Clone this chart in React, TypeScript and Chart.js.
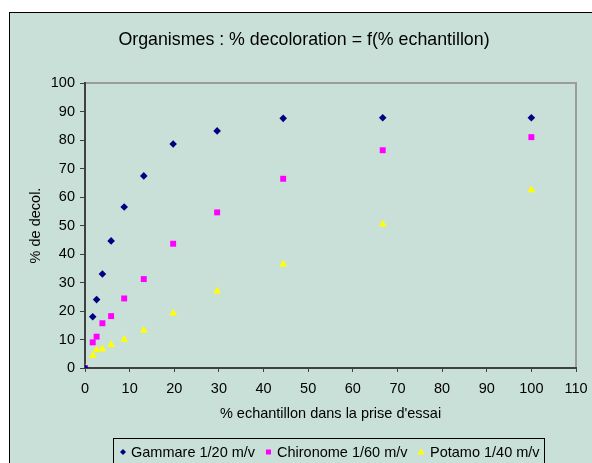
import React, { useEffect, useRef } from "react";
import { Chart, registerables } from "chart.js";

Chart.register(...registerables);

const xValues = [0, 1.73, 2.6, 3.9, 5.85, 8.78, 13.17, 19.75, 29.6, 44.4, 66.7, 100];
const gammare = [0, 18, 24, 33, 44.6, 56.5, 67.4, 78.6, 83.2, 87.6, 87.8, 87.8];
const chironome = [0, 9, 11, 15.7, 18.2, 24.4, 31.2, 43.6, 54.6, 66.4, 76.4, 81];
const potamo = [0, 4.3, 6.3, 6.7, 8.2, 10, 13.2, 19.2, 26.9, 36.4, 50.4, 62.5];

const seriesNames = ["Gammare 1/20 m/v", "Chironome 1/60 m/v", "Potamo 1/40 m/v"];
const title = "Organismes : % decoloration = f(% echantillon)";
const xTitle = "% echantillon dans la prise d'essai";
const yTitle = "% de decol.";

const BG = "#C9E0D8";
const FONT = "'Liberation Sans', Arial, sans-serif";
const FS = 14.5;

const toPoints = (ys: number[]) => xValues.map((x, i) => ({ x, y: ys[i] }));

const framePlugin = {
  id: "frame",
  beforeDraw(chart: any) {
    const { ctx, width, height, chartArea } = chart;
    ctx.save();
    ctx.fillStyle = "#ffffff";
    ctx.fillRect(0, 0, width, height);
    ctx.fillStyle = BG;
    ctx.fillRect(9, 12, width, height);
    ctx.strokeStyle = "#000000";
    ctx.lineWidth = 1;
    ctx.strokeRect(9.5, 12.5, width + 10, height + 10);
    // title
    ctx.fillStyle = "#000000";
    ctx.font = `17.8px ${FONT}`;
    ctx.textAlign = "center";
    ctx.textBaseline = "middle";
    ctx.fillText(title, 304, 40);
    // plot border
    ctx.strokeStyle = "#9c9c9c";
    ctx.lineWidth = 2;
    ctx.beginPath();
    ctx.moveTo(chartArea.left, chartArea.top);
    ctx.lineTo(chartArea.right, chartArea.top);
    ctx.lineTo(chartArea.right, chartArea.bottom);
    ctx.stroke();
    ctx.restore();
  },
  afterDraw(chart: any) {
    const { ctx } = chart;
    ctx.save();
    // legend box
    ctx.strokeStyle = "#000000";
    ctx.lineWidth = 1;
    ctx.fillStyle = BG;
    ctx.fillRect(113.5, 438.5, 431, 40);
    ctx.strokeRect(113.5, 438.5, 431, 40);
    ctx.font = `${FS}px ${FONT}`;
    ctx.textAlign = "left";
    ctx.textBaseline = "middle";
    const items = [
      { mx: 123, tx: 131, idx: 0 },
      { mx: 268.5, tx: 277, idx: 1 },
      { mx: 421, tx: 430, idx: 2 },
    ];
    const my = 452;
    items.forEach((it) => {
      const ds = chart.data.datasets[it.idx];
      ctx.fillStyle = ds.backgroundColor;
      ctx.beginPath();
      if (it.idx === 0) {
        ctx.moveTo(it.mx, my - 3);
        ctx.lineTo(it.mx + 3, my);
        ctx.lineTo(it.mx, my + 3);
        ctx.lineTo(it.mx - 3, my);
        ctx.closePath();
      } else if (it.idx === 1) {
        ctx.rect(it.mx - 2.5, my - 2.5, 5, 5);
      } else {
        ctx.moveTo(it.mx, my - 3.5);
        ctx.lineTo(it.mx + 3.5, my + 2.5);
        ctx.lineTo(it.mx - 3.5, my + 2.5);
        ctx.closePath();
      }
      ctx.fill();
      ctx.fillStyle = "#000000";
      ctx.fillText(seriesNames[it.idx], it.tx, my + 0.5);
    });
    ctx.restore();
  },
};

export default function App() {
  const ref = useRef<HTMLCanvasElement | null>(null);
  useEffect(() => {
    if (!ref.current) return;
    const chart = new Chart(ref.current, {
      type: "scatter",
      data: {
        datasets: [
          {
            label: seriesNames[0],
            data: toPoints(gammare),
            backgroundColor: "#000080",
            borderColor: "#000080",
            borderWidth: 0,
            pointStyle: "rectRot",
            pointRadius: 3.8,
          },
          {
            label: seriesNames[1],
            data: toPoints(chironome),
            backgroundColor: "#FF00FF",
            borderColor: "#FF00FF",
            borderWidth: 0,
            pointStyle: "rect",
            pointRadius: 4.2,
          },
          {
            label: seriesNames[2],
            data: toPoints(potamo),
            backgroundColor: "#FFFF00",
            borderColor: "#FFFF00",
            borderWidth: 0,
            pointStyle: "triangle",
            pointRadius: 4.5,
          },
        ],
      },
      options: {
        responsive: false,
        animation: false,
        layout: { padding: { left: 20, top: 83, right: 16, bottom: 40 } },
        plugins: {
          legend: { display: false },
          title: { display: false },
          tooltip: { enabled: false },
        },
        scales: {
          x: {
            type: "linear",
            min: 0,
            max: 110,
            ticks: {
              stepSize: 10,
              color: "#000000",
              font: { family: FONT, size: FS },
              padding: 8,
              maxRotation: 0,
            },
            grid: {
              display: true,
              drawOnChartArea: false,
              drawTicks: true,
              tickLength: 4,
              color: "#404040",
            },
            border: { display: true, color: "#404040", width: 2 },
            title: {
              display: true,
              text: xTitle,
              color: "#000000",
              font: { family: FONT, size: FS },
              padding: { top: 0, bottom: 0 },
            },
            afterFit: (scale: any) => {
              scale.height = 55;
              scale.paddingLeft = 0;
              scale.paddingRight = 0;
            },
          },
          y: {
            type: "linear",
            min: 0,
            max: 100,
            ticks: {
              stepSize: 10,
              color: "#000000",
              font: { family: FONT, size: FS },
              padding: 5,
            },
            grid: {
              display: true,
              drawOnChartArea: false,
              drawTicks: true,
              tickLength: 5,
              color: "#404040",
            },
            border: { display: true, color: "#404040", width: 2 },
            title: {
              display: true,
              text: yTitle,
              color: "#000000",
              font: { family: FONT, size: FS },
              padding: { top: 7, bottom: 0 },
            },
            afterFit: (scale: any) => {
              scale.width = 65;
              scale.paddingTop = 0;
              scale.paddingBottom = 0;
            },
          },
        },
      },
      plugins: [framePlugin],
    } as any);
    return () => chart.destroy();
  }, []);
  return (
    <div style={{ position: "absolute", left: 0, top: 0, width: 592, height: 463 }}>
      <canvas ref={ref} width={592} height={463} style={{ display: "block" }} />
    </div>
  );
}
